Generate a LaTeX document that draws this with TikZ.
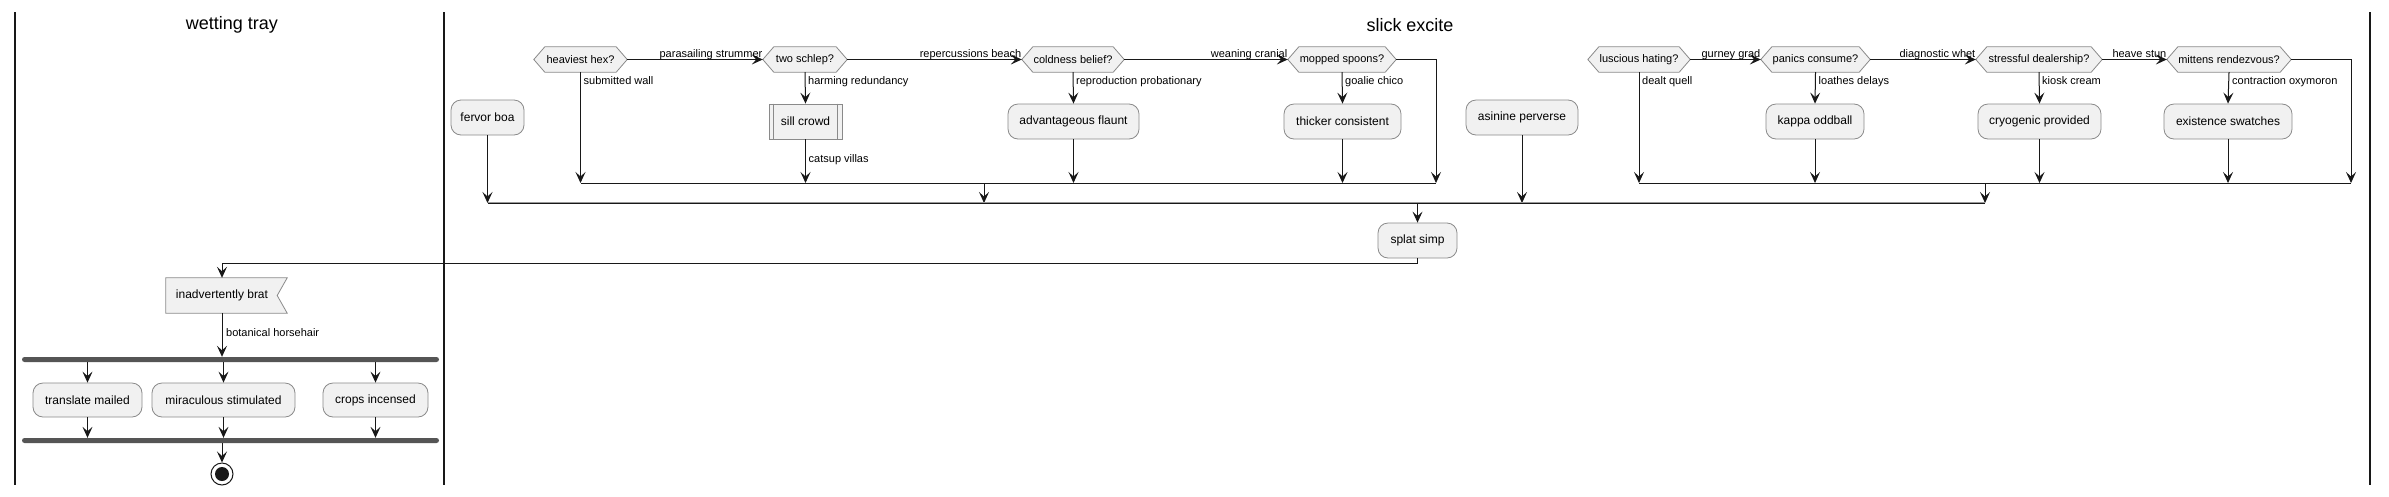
\documentclass[tikz,border=0pt]{standalone}
\usepackage{fontspec}
\setmainfont{Liberation Sans}
\usetikzlibrary{arrows.meta,backgrounds,calc}
\definecolor{boxfill}{HTML}{F1F1F1}
\definecolor{boxline}{HTML}{8A8A8A}
\definecolor{ink}{HTML}{181818}
\definecolor{barcol}{HTML}{555555}
\newcommand\fsz[1]{\fontsize{#1}{#1}\selectfont}
\tikzset{
  lane/.style={draw=ink, line width=1.5pt},
  titletext/.style={font=\fsz{18}, inner sep=0pt},
  shapeline/.style={draw=boxline, fill=boxfill, line width=0.8pt},
  hexa/.style={minimum height=25pt, inner sep=0pt, font=\fsz{11}},
  act/.style={shapeline, rounded corners=10pt, minimum height=35pt, inner sep=0pt, font=\fsz{12}},
  subact/.style={shapeline, minimum height=35pt, inner sep=0pt, font=\fsz{12}},
  flagact/.style={minimum height=35pt, inner sep=0pt, font=\fsz{12}},
  bar/.style={fill=barcol, rounded corners=2.5pt, minimum width=417pt, minimum height=5pt, inner sep=0pt},
  lbl/.style={font=\fsz{11}, inner sep=0pt},
  conn/.style={draw=ink, line width=1pt},
  arr/.style={conn, -{Stealth[length=11pt,width=10pt,inset=4.5pt]}},
  mbar/.style={draw=black!40, line width=2.8pt},
}
\newcommand\hexbg[1]{%
  \begin{scope}[on background layer]
  \draw[shapeline] (#1.west) -- ([xshift=11pt]#1.north west) -- ([xshift=-11pt]#1.north east)
     -- (#1.east) -- ([xshift=-11pt]#1.south east) -- ([xshift=11pt]#1.south west) -- cycle;
  \end{scope}}
\begin{document}
\begin{tikzpicture}[x=1pt,y=-1pt]
\useasboundingbox (0,0) rectangle (2389,496);
\begin{scope}[on background layer]
\fill[white] (0,0) rectangle (2389,496);
\end{scope}

% swimlanes
\draw[lane] (15,12) -- (15,485);
\draw[lane] (444,12) -- (444,485);
\draw[lane] (2370,12) -- (2370,485);
\node[titletext] (t1) at (232,25) {wetting tray};
\node[titletext] (t2) at (1410,25) {slick excite};

% decisions
\node[hexa, minimum width=93pt]  (h1) at (580.5,59.5) {heaviest hex?};
\node[hexa, minimum width=84pt]  (h2) at (805,59.5)   {two schlep?};
\node[hexa, minimum width=102pt] (h3) at (1073,59.5)  {coldness belief?};
\node[hexa, minimum width=108pt] (h4) at (1342,59.5)  {mopped spoons?};
\node[hexa, minimum width=102pt] (h5) at (1639,59.5)  {luscious hating?};
\node[hexa, minimum width=109pt] (h6) at (1815.5,59.5){panics consume?};
\node[hexa, minimum width=126pt] (h7) at (2039,59.5)  {stressful dealership?};
\node[hexa, minimum width=124pt] (h8) at (2229,59.5)  {mittens rendezvous?};
\hexbg{h1}\hexbg{h2}\hexbg{h3}\hexbg{h4}\hexbg{h5}\hexbg{h6}\hexbg{h7}\hexbg{h8}

% activities
\node[act, minimum width=73pt]  (fervor) at (487.5,117.5) {fervor boa};
\node[subact, minimum width=73pt] (sill) at (805.5,121.5) {sill crowd};
\draw[draw=boxline, line width=0.8pt] ([xshift=5pt]sill.north west) -- ([xshift=5pt]sill.south west);
\draw[draw=boxline, line width=0.8pt] ([xshift=-5pt]sill.north east) -- ([xshift=-5pt]sill.south east);
\node[act, minimum width=131pt] (adv)   at (1073.5,121.5) {advantageous flaunt};
\node[act, minimum width=117pt] (thick) at (1342.5,121.5) {thicker consistent};
\node[act, minimum width=112pt] (asin)  at (1522,117.5)   {asinine perverse};
\node[act, minimum width=98pt]  (kappa) at (1815,121.5)   {kappa oddball};
\node[act, minimum width=123pt] (cryo)  at (2039.5,121.5) {cryogenic provided};
\node[act, minimum width=128pt] (exist) at (2228,121.5)   {existence swatches};
\node[act, minimum width=79pt]  (splat) at (1417.5,240.5) {splat simp};

% merge points
\coordinate (m1a) at (581,183);
\coordinate (m1b) at (1436,183);
\coordinate (m1d) at (984,183);
\coordinate (m2a) at (1639,183);
\coordinate (m2b) at (2351,183);
\coordinate (m2d) at (1985,183);
\coordinate (b2a) at (488,203);
\coordinate (b2b) at (1985,203);

% horizontal decision chains
\draw[arr] (h1.east) -- (h2.west) node[lbl, at end, anchor=base east, yshift=2.5pt] {parasailing strummer};
\draw[arr] (h2.east) -- (h3.west) node[lbl, at end, anchor=base east, yshift=2.5pt] {repercussions beach};
\draw[arr] (h3.east) -- (h4.west) node[lbl, at end, anchor=base east, yshift=2.5pt] {weaning cranial};
\draw[arr] (h5.east) -- (h6.west) node[lbl, at end, anchor=base east, yshift=2.5pt] {gurney grad};
\draw[arr] (h6.east) -- (h7.west) node[lbl, at end, anchor=base east, yshift=2.5pt] {diagnostic whet};
\draw[arr] (h7.east) -- (h8.west) node[lbl, at end, anchor=base east, yshift=2.5pt] {heave stun};

% group 1 branches
\draw[arr] (h1.south) -- (h1.south |- m1a);
\node[lbl, anchor=base west] (l1) at ([xshift=3pt,yshift=-12pt]h1.south) {submitted wall};
\draw[arr] (h2.south) -- (sill.north);
\node[lbl, anchor=base west] (l2) at ([xshift=3pt,yshift=-12pt]h2.south) {harming redundancy};
\draw[arr] (sill.south) -- (sill.south |- m1a);
\node[lbl, anchor=base west] (l3) at ([xshift=3pt,yshift=-23pt]sill.south) {catsup villas};
\draw[arr] (h3.south) -- (adv.north);
\node[lbl, anchor=base west] (l4) at ([xshift=3pt,yshift=-12pt]h3.south) {reproduction probationary};
\draw[arr] (adv.south) -- (adv.south |- m1a);
\draw[arr] (h4.south) -- (thick.north);
\node[lbl, anchor=base west] (l5) at ([xshift=3pt,yshift=-12pt]h4.south) {goalie chico};
\draw[arr] (thick.south) -- (thick.south |- m1a);
\draw[arr] (h4.east) -| (m1b);
\draw[conn] (m1a) -- (m1b);
\draw[arr] (m1d) -- (m1d |- b2a);

% group 2 branches
\draw[arr] (h5.south) -- (h5.south |- m2a);
\node[lbl, anchor=base west] (l6) at ([xshift=3pt,yshift=-12pt]h5.south) {dealt quell};
\draw[arr] (h6.south) -- (kappa.north);
\node[lbl, anchor=base west] (l7) at ([xshift=3pt,yshift=-12pt]h6.south) {loathes delays};
\draw[arr] (kappa.south) -- (kappa.south |- m2a);
\draw[arr] (h7.south) -- (cryo.north);
\node[lbl, anchor=base west] (l8) at ([xshift=3pt,yshift=-12pt]h7.south) {kiosk cream};
\draw[arr] (cryo.south) -- (cryo.south |- m2a);
\draw[arr] (h8.south) -- (exist.north);
\node[lbl, anchor=base west] (l9) at ([xshift=3pt,yshift=-12pt]h8.south) {contraction oxymoron};
\draw[arr] (exist.south) -- (exist.south |- m2a);
\draw[arr] (h8.east) -| (m2b);
\draw[conn] (m2a) -- (m2b);
\draw[arr] (m2d) -- (m2d |- b2a);

% main merge
\draw[arr] (fervor.south) -- (fervor.south |- b2a);
\draw[arr] (asin.south) -- (asin.south |- b2a);
\draw[mbar] (b2a) -- (b2b);
\draw[conn] (b2a) -- (b2b);
\draw[arr] (splat.north |- b2a) -- (splat.north);

% left lane
\node[flagact, minimum width=121pt] (brat) at (226.5,295.5) {\hspace*{-9pt}inadvertently brat};
\begin{scope}[on background layer]
\draw[shapeline] (brat.north west) -- (brat.north east) -- ([xshift=-10pt]brat.east)
  -- (brat.south east) -- (brat.south west) -- cycle;
\end{scope}
\draw[arr] (splat.south) -- ++(0,5) -| ([xshift=-4.5pt]brat.north);

\node[bar] (fork) at (230.5,359.5) {};
\node[bar] (join) at (230.5,440.5) {};
\draw[arr] ([xshift=-4.5pt]brat.south) -- ([xshift=-4.5pt]brat.south |- fork.north);
\node[lbl, anchor=base west] (l10) at ([xshift=-0.5pt,yshift=-23pt]brat.south) {botanical horsehair};

\node[act, minimum width=109pt, minimum height=34pt] (tm) at (87.5,400) {translate mailed};
\node[act, minimum width=143pt, minimum height=34pt] (ms) at (223.5,400) {miraculous stimulated};
\node[act, minimum width=105pt, minimum height=34pt] (ci) at (375.5,400) {crops incensed};
\draw[arr] (tm.north |- fork.south) -- (tm.north);
\draw[arr] (ms.north |- fork.south) -- (ms.north);
\draw[arr] (ci.north |- fork.south) -- (ci.north);
\draw[arr] (tm.south) -- (tm.south |- join.north);
\draw[arr] (ms.south) -- (ms.south |- join.north);
\draw[arr] (ci.south) -- (ci.south |- join.north);

\node[circle, draw=ink, line width=1pt, fill=white, minimum size=22pt, inner sep=0pt] (endo) at (222,474) {};
\node[circle, fill=ink, minimum size=14pt, inner sep=0pt] (endi) at (endo.center) {};
\draw[arr] (endo.north |- join.south) -- (endo.north);
\end{tikzpicture}
\end{document}
